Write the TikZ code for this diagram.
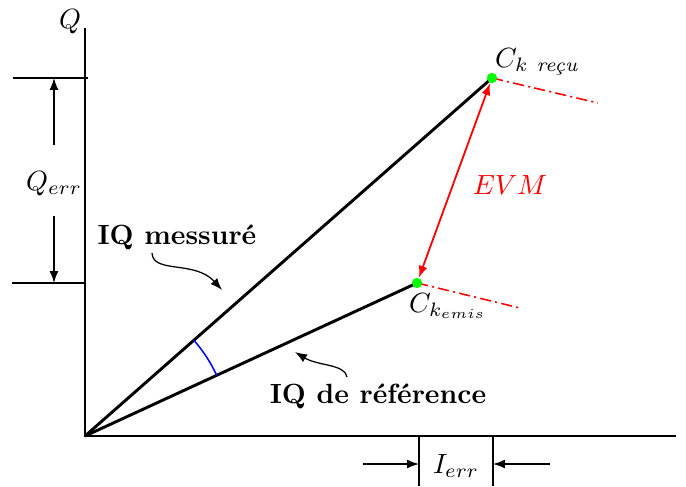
\documentclass[tikz,border=0pt]{standalone}
\usepackage{amsmath}
\usetikzlibrary{arrows.meta}
\begin{document}
\begin{tikzpicture}[x=0.36pt,y=-0.36pt,
  >={Latex[length=4.3pt,width=3.2pt]},
  axis/.style={line width=0.6pt},
  vec/.style={line width=1.05pt},
  dim/.style={line width=0.45pt},
  ext/.style={red, line width=0.55pt, dash pattern=on 4pt off 1.5pt on 0.8pt off 1.5pt},
  pt/.style={circle, fill=green, inner sep=0pt, minimum size=3.6pt},
  lab/.style={inner sep=1pt}]
\useasboundingbox (0,0) rectangle (686,486);
% axes
\coordinate (O) at (85,436);
\coordinate (Qtop) at (85,28);
\coordinate (Iend) at (676,436);
\draw[axis] (Qtop) -- (O) -- (Iend);
\node[lab] (Qlab) at (70,22) {$Q$};
\node[lab] (Ilab) at (693,452) {$I$};
% vectors
\node[pt] (R) at (492,78) {};
\node[pt] (E) at (417,283) {};
\draw[vec] (O) -- (R.center);
\draw[vec] (O) -- (E.center);
% extensions
\coordinate (Rx) at (598,103);
\coordinate (Ex) at (520,308);
\draw[ext] (R.center) -- (Rx);
\draw[ext] (E.center) -- (Ex);
% EVM
\draw[red, line width=0.65pt, <->] (E) -- (R);
\fill[green] (R) circle (1.8pt);
\fill[green] (E) circle (1.8pt);
\node[lab, red] (evm) at (510,185) {$EVM$};
\node[lab] (Rlab) at (537,62) {$C_{k\ \textit{reçu}}$};
\node[lab] (Elab) at (448,306) {$C_{k_{emis}}$};
% angle
\draw[blue, line width=0.55pt] (O) ++(-41.3:145) arc[start angle=-41.3, end angle=-24.7, radius=145];
% labels
\node[lab] (m) at (177,237) {\textbf{IQ messuré}};
\node[lab] (r) at (378,396) {\textbf{IQ de référence}};
\coordinate (m1) at (152,253);
\coordinate (m2) at (222,290);
\draw[dim, ->] (m1) .. controls (153,274) and (195,260) .. (m2);
\coordinate (r1) at (347,377);
\coordinate (r2) at (295,352);
\draw[dim, ->] (r1) .. controls (345,364) and (318,366) .. (r2);
% Q_err
\coordinate (qa) at (13,78);  \coordinate (qb) at (88,78);
\coordinate (qc) at (12,283); \coordinate (qd) at (85,283);
\draw[dim] (qa) -- (qb);
\draw[dim] (qc) -- (qd);
\node[lab] (qerr) at (54,184) {$Q_{err}$};
\coordinate (q1) at (54,145); \coordinate (q2) at (54,78);
\coordinate (q3) at (54,216); \coordinate (q4) at (54,283);
\draw[dim, ->] (q1) -- (q2);
\draw[dim, ->] (q3) -- (q4);
% I_err
\coordinate (ia) at (419,436); \coordinate (ib) at (419,486);
\coordinate (ic) at (493,436); \coordinate (id) at (493,486);
\draw[dim] (ia) -- (ib);
\draw[dim] (ic) -- (id);
\node[lab] (ierr) at (456,466) {$I_{err}$};
\coordinate (i1) at (363,464); \coordinate (i2) at (419,464);
\coordinate (i3) at (550,464); \coordinate (i4) at (493,464);
\draw[dim, ->] (i1) -- (i2);
\draw[dim, ->] (i3) -- (i4);
\end{tikzpicture}
\end{document}
